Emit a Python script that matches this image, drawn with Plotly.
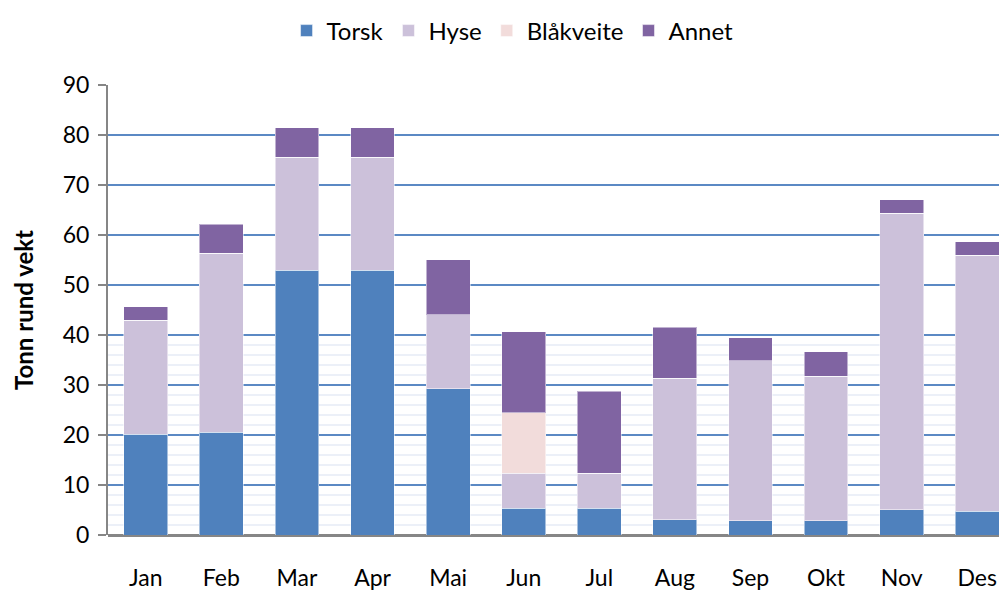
import plotly.graph_objects as go

months = ["Jan", "Feb", "Mar", "Apr", "Mai", "Jun", "Jul", "Aug", "Sep", "Okt", "Nov", "Des"]
torsk = [20.2, 20.6, 53.0, 53.0, 29.3, 5.4, 5.4, 3.1, 2.9, 2.9, 5.1, 4.8]
hyse = [22.8, 35.8, 22.6, 22.6, 14.8, 7.0, 7.0, 28.3, 32.0, 28.9, 59.3, 51.2]
blakveite = [0, 0, 0, 0, 0, 12.1, 0, 0, 0, 0, 0, 0]
annet = [2.7, 5.8, 5.9, 5.9, 11.0, 16.2, 16.4, 10.2, 4.6, 4.9, 2.7, 2.7]

series = [
    ("Torsk", torsk, "#4F81BD"),
    ("Hyse", hyse, "#CCC1DA"),
    ("Blåkveite", blakveite, "#F2DCDB"),
    ("Annet", annet, "#8064A2"),
]

fig = go.Figure()
for name, vals, col in series:
    fig.add_trace(go.Bar(
        x=months, y=vals, name=name,
        marker=dict(color=col, line=dict(color="rgba(255,255,255,0.5)", width=1)),
    ))

# faint minor grid lines in the lower part of the plot
for v in range(2, 40, 2):
    if v % 10:
        fig.add_shape(type="line", xref="paper", x0=0, x1=1, yref="y", y0=v, y1=v,
                      line=dict(color="rgba(200,212,235,0.35)", width=2), layer="below")

fig.update_layout(
    width=999, height=582,
    margin=dict(l=100, r=0, t=69, b=55),
    paper_bgcolor="white", plot_bgcolor="white",
    barmode="stack", bargap=0.42,
    font=dict(family="Lato, 'Noto Sans', sans-serif", size=23, color="black"),
    legend=dict(orientation="h", x=0.45, xanchor="center", yref="paper", y=1.12,
                yanchor="middle", font=dict(size=24), traceorder="normal",
                itemwidth=30),
    showlegend=True,
)

fig.update_xaxes(
    range=[-0.5, 11.394], showgrid=False, showline=False, ticks="",
    ticklabelstandoff=27, tickfont=dict(size=23),
)
fig.update_yaxes(
    range=[0, 90], dtick=10, tick0=0,
    showgrid=True, gridcolor="#5B89C4", gridwidth=2,
    showline=True, linecolor="#868686", linewidth=2,
    ticks="outside", ticklen=8, tickcolor="#868686", tickwidth=2,
    ticklabelstandoff=4,
    tickfont=dict(size=23), zeroline=True, zerolinecolor="#868686", zerolinewidth=3,
    title=dict(text="<b>Tonn rund vekt</b>", font=dict(size=24), standoff=22),
)

fig.write_html("out.html")
